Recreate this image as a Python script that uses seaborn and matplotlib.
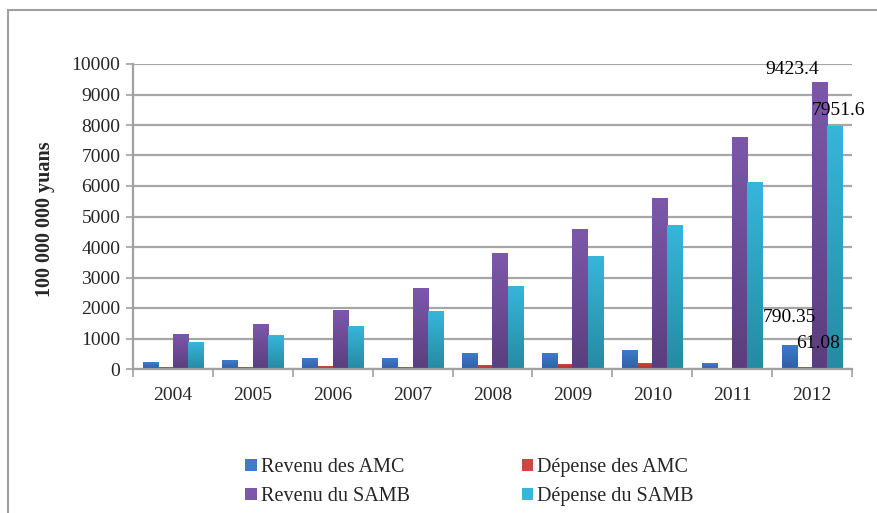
import numpy as np
import pandas as pd
import matplotlib.pyplot as plt
import matplotlib.patches as mpatches
from matplotlib.colors import LinearSegmentedColormap
import seaborn as sns

# Data
years = ['2004', '2005', '2006', '2007', '2008', '2009', '2010', '2011', '2012']
revenu_amc = [220, 285, 350, 350, 515, 515, 613, 186, 790.35]
depense_amc = [55, 55, 88, 55, 120, 165, 186, 20, 61.08]
revenu_samb = [1140, 1466, 1925, 2650, 3800, 4585, 5600, 7605, 9423.4]
depense_samb = [875, 1105, 1400, 1890, 2710, 3700, 4715, 6127, 7951.6]

series = ['Revenu des AMC', 'Dépense des AMC', 'Revenu du SAMB', 'Dépense du SAMB']
values = [revenu_amc, depense_amc, revenu_samb, depense_samb]

rows = []
for name, vals in zip(series, values):
    for y, v in zip(years, vals):
        rows.append({'year': y, 'series': name, 'value': v})
df = pd.DataFrame(rows)

# top / bottom colours of each bar gradient
tops = ['#3f7bcc', '#d04540', '#7d58aa', '#36b6da']
bottoms = ['#2f5fa4', '#a8302c', '#5a3e7e', '#268aa2']
palette = dict(zip(series, tops))

sns.set_theme(style='white')
plt.rcParams['font.family'] = ['Liberation Serif', 'DejaVu Serif']

fig = plt.figure(figsize=(8.78, 5.13), dpi=100)
ax = fig.add_axes([133 / 878, 1 - 369 / 513, 719 / 878, 305 / 513])

sns.barplot(data=df, x='year', y='value', hue='series', hue_order=series,
            palette=palette, saturation=1, width=0.76, ax=ax, legend=False,
            linewidth=0)

# gradient fill clipped to each bar
bars_by_series = []
n = len(years)
for i, name in enumerate(series):
    patches = ax.patches[i * n:(i + 1) * n]
    bars_by_series.append(patches)
    cmap = LinearSegmentedColormap.from_list(name, [bottoms[i], tops[i]])
    grad = np.linspace(0, 1, 256).reshape(-1, 1)
    for p in patches:
        x0, y0 = p.get_x(), p.get_y()
        w, h = p.get_width(), p.get_height()
        im = ax.imshow(grad, cmap=cmap, origin='lower', aspect='auto',
                       extent=(x0, x0 + w, y0, y0 + h), zorder=2)
        im.set_clip_path(p)
        p.set_facecolor('none')
ax.set_xlim(-0.5, len(years) - 0.5)
ax.set_ylim(0, 10000)

# grid and axes
ax.set_yticks(np.arange(0, 10001, 1000))
ax.yaxis.grid(True, color='#a6a6a6', linewidth=1.6)
ax.set_axisbelow(True)
for s in ['top', 'right']:
    ax.spines[s].set_visible(False)
for s in ['left', 'bottom']:
    ax.spines[s].set_color('#a0a0a0')
    ax.spines[s].set_linewidth(1.6)

ax.tick_params(axis='y', which='major', left=True, length=5, width=1.2,
               color='#a0a0a0', labelsize=14, pad=4)
ax.set_xticks(np.arange(-0.5, len(years), 1.0), minor=True)
ax.tick_params(axis='x', which='minor', bottom=True, length=6, width=1.2,
               color='#a0a0a0', direction='out')
ax.tick_params(axis='x', which='major', length=0, labelsize=14, pad=13)
ax.set_xlabel('')
ax.set_ylabel('100 000 000 yuans', fontsize=14.5, fontweight='bold')
ax.yaxis.set_label_coords(-0.108, 0.49)

# data labels for 2012 (offsets in pixels)
px = 0.72
label_offsets = [(0, 27), (14, 24), (-27, 12), (4, 16)]
for i, (dx, dy) in enumerate(label_offsets):
    p = bars_by_series[i][-1]
    xc = p.get_x() + p.get_width() / 2
    ax.annotate(f'{values[i][-1]:g}', xy=(xc, p.get_height()),
                xytext=(dx * px, dy * px), textcoords='offset points',
                ha='center', va='center', fontsize=14, color='black',
                annotation_clip=False, zorder=5)

# legend below the plot
handles = [mpatches.Patch(facecolor=tops[i], edgecolor='none') for i in range(4)]
order = [0, 2, 1, 3]
fig.legend([handles[i] for i in order], [series[i] for i in order],
           ncol=2, loc='center', bbox_to_anchor=(0.535, 1 - 482 / 513),
           frameon=False, fontsize=14.5, handlelength=0.55, handleheight=0.55,
           handletextpad=0.2, columnspacing=5.6, labelspacing=0.5)

# outer chart border
fig.patches.append(mpatches.Rectangle((8 / 878, -0.1), 1.0, 503 / 513 + 0.1,
                                      transform=fig.transFigure, fill=False,
                                      edgecolor='#a0a0a0', linewidth=1.5))

fig.savefig('out.png', dpi=100)
